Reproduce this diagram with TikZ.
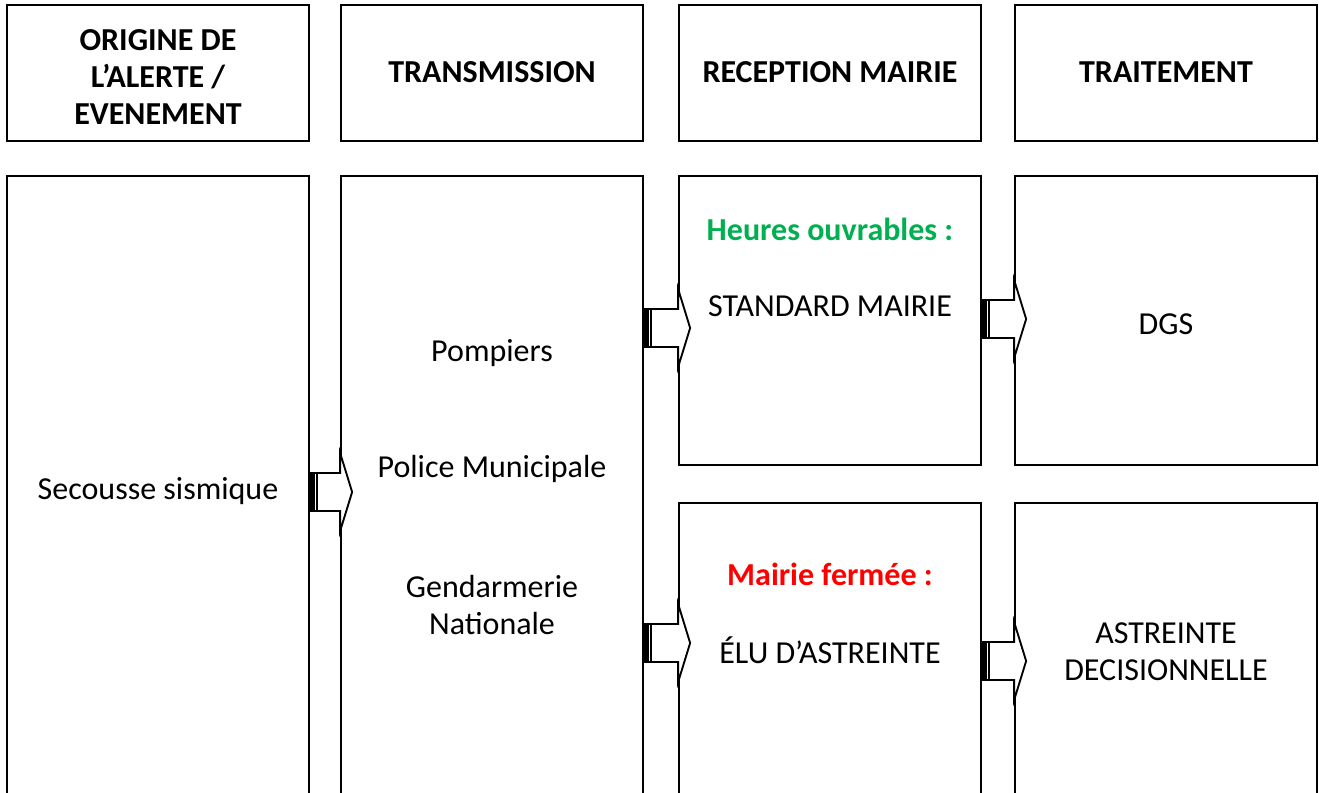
\documentclass[tikz,border=0pt]{standalone}
\usepackage{fontspec}
\setmainfont{Carlito}
\usetikzlibrary{calc}

\definecolor{okgreen}{HTML}{00B050}
\definecolor{alertred}{HTML}{FF0000}

% striped block arrow from one box to the next, at height #3
\newcommand{\bararrow}[3]{%
  \coordinate (s) at (#1.east |- 0,#3);
  \coordinate (t) at (#2.west |- 0,#3);
  \filldraw[fill=white, line width=1.4pt, line join=miter]
    ($(s)+(0,-19)$) -- ($(t)+(0,-19)$) -- ($(t)+(0,-39)$) -- ($(t)+(12,0)$)
    -- ($(t)+(0,39)$) -- ($(t)+(0,19)$) -- ($(s)+(0,19)$) -- cycle;
  \fill ($(s)+(-1,-19)$) rectangle ($(s)+(5,19)$);
  \draw[line width=1.2pt] ($(s)+(7,-19)$) -- ($(s)+(7,19)$);
}

\begin{document}
\begin{tikzpicture}
  [x=0.75pt,y=-0.75pt,
   every node/.style={font=\fontsize{24}{28}\selectfont},
   box/.style={draw,line width=1.3pt,minimum width=226.5pt,inner sep=0pt},
   head/.style={box,minimum height=102pt},
   title/.style={font=\fontsize{24}{28}\selectfont\bfseries,align=center}]
  \useasboundingbox (0,0) rectangle (1319,792);
  \clip (0,0) rectangle (1319,792);

  % header row
  \node[head] (h1) at (158,73) {};
  \node[head] (h2) at (492,73) {};
  \node[head] (h3) at (830,73) {};
  \node[head] (h4) at (1166,73) {};
  \node[title] (t1) at (158,77) {ORIGINE DE\\L’ALERTE /\\EVENEMENT};
  \node[title] (t2) at (492,72) {TRANSMISSION};
  \node[title] (t3) at (830,72) {RECEPTION MAIRIE};
  \node[title] (t4) at (1166,72) {TRAITEMENT};

  % body boxes
  \node[box,minimum height=483pt] (orig) at (158,498) {};
  \node[box,minimum height=483pt] (trans) at (492,498) {};
  \node[box,minimum height=216.75pt] (open) at (830,320.5) {};
  \node[box,minimum height=237.75pt] (closed) at (830,661.5) {};
  \node[box,minimum height=216.75pt] (dgs) at (1166,320.5) {};
  \node[box,minimum height=237.75pt] (astr) at (1166,661.5) {};

  % texts
  \node (seisme) at (158,491) {Secousse sismique};
  \node (pomp) at (492,353) {Pompiers};
  \node (police) at (492,469) {Police Municipale};
  \node[align=center] (gend) at (492,605) {Gendarmerie\\Nationale};
  \node[title,text=okgreen] (heures) at (830,229) {Heures ouvrables :};
  \node (standard) at (830,306) {STANDARD MAIRIE};
  \node (dgstxt) at (1166,324) {DGS};
  \node[title,text=alertred] (fermee) at (830,574) {Mairie fermée :};
  \node (elu) at (830,650) {ÉLU D’ASTREINTE};
  \node[align=center] (decis) at (1166,652) {ASTREINTE\\DECISIONNELLE};

  % arrows
  \bararrow{orig}{trans}{492}
  \bararrow{trans}{open}{328}
  \bararrow{trans}{closed}{643}
  \bararrow{open}{dgs}{319}
  \bararrow{closed}{astr}{661}
\end{tikzpicture}
\end{document}
